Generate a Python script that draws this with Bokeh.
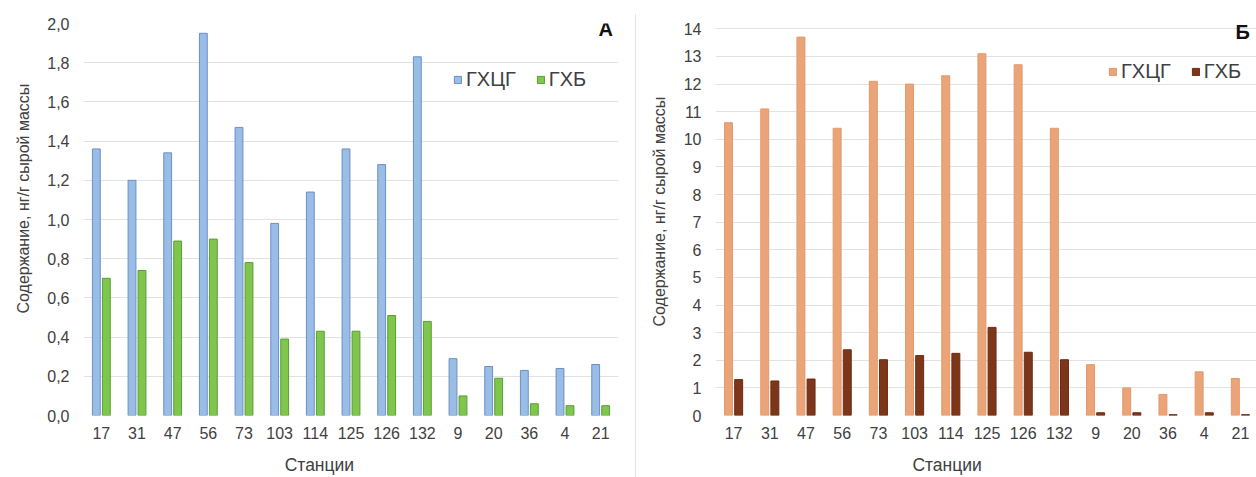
from bokeh.plotting import figure
from bokeh.models import (Range1d, FixedTicker, CustomJSTickFormatter, Legend, LegendItem,
                          Label, Title, Div, ColumnDataSource)
from bokeh.layouts import row
from bokeh.embed import file_html
from bokeh.resources import INLINE
from bokeh.transform import dodge

stations = ["17", "31", "47", "56", "73", "103", "114", "125", "126", "132", "9", "20", "36", "4", "21"]
a_hch = [1.36, 1.20, 1.34, 1.95, 1.47, 0.98, 1.14, 1.36, 1.28, 1.83, 0.29, 0.25, 0.23, 0.24, 0.26]
a_hcb = [0.70, 0.74, 0.89, 0.90, 0.78, 0.39, 0.43, 0.43, 0.51, 0.48, 0.10, 0.19, 0.06, 0.05, 0.05]
b_hch = [10.6, 11.1, 13.7, 10.4, 12.1, 12.0, 12.3, 13.1, 12.7, 10.4, 1.84, 1.0, 0.76, 1.58, 1.34]
b_hcb = [1.30, 1.25, 1.32, 2.38, 2.02, 2.17, 2.25, 3.19, 2.29, 2.02, 0.10, 0.10, 0.03, 0.10, 0.03]
series_names = ["ГХЦГ", "ГХБ"]
y_title = "Содержание, нг/г сырой массы"
x_title = "Станции"

FONT = "Liberation Sans"
TXT = "#404040"
GRID = "#e2e2e2"
pos = [i + 0.5 for i in range(len(stations))]


def make_panel(width, x_end, y_top, y_end, y_step, fmt_code, hch, hcb, c1, l1, c2, l2,
               mb_left, mb_right, letter, letter_xy, legend_loc, xt_pad, yt_offset):
    src = ColumnDataSource(dict(x=pos, hch=hch, hcb=hcb))
    p = figure(width=width, height=477, x_range=Range1d(0, x_end), y_range=Range1d(0, y_end),
               output_backend="svg", toolbar_location=None,
               min_border_left=mb_left, min_border_right=mb_right,
               min_border_top=23, min_border_bottom=60)
    p.outline_line_color = None
    p.background_fill_color = "white"
    p.border_fill_color = "white"
    r1 = p.vbar(x=dodge("x", -0.14, range=p.x_range), top="hch", width=0.22, source=src,
                fill_color=c1, line_color=l1, line_width=1)
    r2 = p.vbar(x=dodge("x", 0.14, range=p.x_range), top="hcb", width=0.22, source=src,
                fill_color=c2, line_color=l2, line_width=1)

    p.xgrid.visible = False
    p.ygrid.grid_line_color = GRID
    p.ygrid.grid_line_width = 1
    ticks = []
    v = 0.0
    while v <= y_top + 1e-9:
        ticks.append(round(v, 4))
        v += y_step
    p.yaxis.ticker = FixedTicker(ticks=ticks)
    p.ygrid.ticker = FixedTicker(ticks=ticks)
    p.yaxis.formatter = CustomJSTickFormatter(code=fmt_code)
    p.xaxis.ticker = FixedTicker(ticks=pos)
    p.xaxis.major_label_overrides = {x: s for x, s in zip(pos, stations)}

    for ax in (p.xaxis[0], p.yaxis[0]):
        ax.axis_line_color = None
        ax.major_tick_line_color = None
        ax.minor_tick_line_color = None
        ax.major_tick_out = 0
        ax.major_tick_in = 0
        ax.major_label_text_font = FONT
        ax.major_label_text_font_size = "16px"
        ax.major_label_text_color = TXT
    p.yaxis.major_label_standoff = 14
    p.xaxis.major_label_standoff = 11

    # x title: centred on the frame, shifted left by trailing no-break spaces
    p.xaxis.axis_label = x_title + "\u00a0" * xt_pad
    p.xaxis.axis_label_standoff = 13
    p.xaxis.axis_label_text_font = FONT
    p.xaxis.axis_label_text_font_size = "17.5px"
    p.xaxis.axis_label_text_font_style = "normal"
    p.xaxis.axis_label_text_color = TXT

    p.add_layout(Title(text=y_title, align="left", offset=yt_offset, text_font=FONT,
                       text_font_size="16px", text_font_style="normal", text_color=TXT,
                       standoff=25), "left")

    legend = Legend(items=[LegendItem(label=series_names[0], renderers=[r1]),
                           LegendItem(label=series_names[1], renderers=[r2])],
                    orientation="horizontal", location=legend_loc, padding=0, margin=0,
                    spacing=20, glyph_width=9, glyph_height=9, label_standoff=4,
                    label_text_font=FONT, label_text_font_size="20px", label_text_color=TXT,
                    background_fill_alpha=0, border_line_alpha=0)
    p.add_layout(legend, "center")
    p.add_layout(Label(x=letter_xy[0], y=letter_xy[1], text=letter, text_font=FONT,
                       text_font_size="20px", text_font_style="bold", text_color="#111111",
                       text_align="center", text_baseline="middle"))
    return p


p1 = make_panel(635, 15, 2.0, 2.0, 0.2, "return tick.toFixed(1).replace('.', ',');",
                a_hch, a_hcb, "#9abde6", "#6a8fc4", "#7ec64c", "#5c9c34",
                82, 17, "А", (14.64, 1.97), (370, 324), 13, 102)
p2 = make_panel(620, 541 / 36.2, 14, 394 / 27.76, 1, "return tick.toFixed(0);",
                b_hch, b_hcb, "#eba477", "#e09a6c", "#7e361a", "#6b2c14",
                79, 0, "Б", (14.56, 13.9), (393, 332), 16, 89)

sep = Div(text="", width=1, height=463, margin=(14, 0, 0, 0),
          styles={"background-color": "#e4e4e4"})

layout = row(p1, sep, p2)
open("out.html", "w").write(file_html(layout, INLINE))
